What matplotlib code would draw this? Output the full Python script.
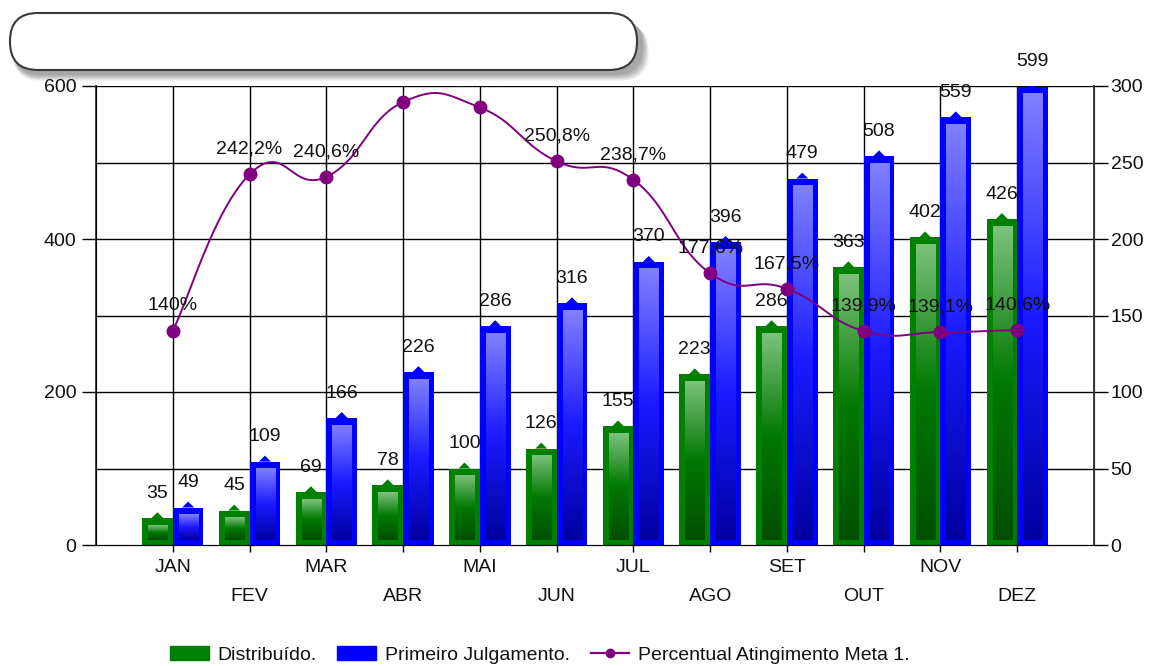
import numpy as np
import matplotlib
matplotlib.use("Agg")
import matplotlib.pyplot as plt
from matplotlib.patches import FancyBboxPatch, Patch, Polygon
from matplotlib.lines import Line2D
from matplotlib.colors import LinearSegmentedColormap
from matplotlib.transforms import IdentityTransform

plt.rcParams['font.family'] = ['Liberation Sans', 'DejaVu Sans']

# data
months = ['JAN', 'FEV', 'MAR', 'ABR', 'MAI', 'JUN', 'JUL', 'AGO', 'SET', 'OUT', 'NOV', 'DEZ']
distribuido = [35, 45, 69, 78, 100, 126, 155, 223, 286, 363, 402, 426]
primeiro_julgamento = [49, 109, 166, 226, 286, 316, 370, 396, 479, 508, 559, 599]
percentual = [140.0, 242.2, 240.6, 289.5, 286.0, 250.8, 238.7, 177.6, 167.5, 139.9, 139.1, 140.6]

GREEN = '#008000'
BLUE = '#0000ff'
PURPLE = '#800080'
TXT = '#111111'
FS = 14

W, H = 1159, 666
fig = plt.figure(figsize=(W / 100, H / 100), dpi=100)
ax = fig.add_axes([96 / W, (H - 545) / H, 998 / W, 459 / H])
ax2 = ax.twinx()

x = np.arange(len(months))
bw = 0.40
px_x = 13.0 / 998          # data units per pixel, x
px_y = 600.0 / 459         # data units per pixel, left y

cmap_g = LinearSegmentedColormap.from_list('g', ['#004f00', '#007800', '#7cc27c'])
cmap_b = LinearSegmentedColormap.from_list('b', ['#0000a0', '#1a1aff', '#8080ff'])
grad = np.linspace(0, 1, 256).reshape(-1, 1)


def draw_bars(xc, vals, color, cmap):
    ax.bar(xc, vals, width=bw, color=color, zorder=2, linewidth=0)
    for xi, v in zip(xc, vals):
        # small cap on top of each bar
        tri = Polygon([[xi - 6 * px_x, v], [xi, v + 6 * px_y], [xi + 6 * px_x, v]],
                      closed=True, color=color, zorder=2, lw=0)
        ax.add_patch(tri)
        x0 = xi - bw / 2 + 6 * px_x
        x1 = xi + bw / 2 - 5 * px_x
        y0 = 5 * px_y
        y1 = v - 7 * px_y
        if y1 > y0:
            ax.imshow(grad, extent=[x0, x1, y0, y1], origin='lower', cmap=cmap,
                      aspect='auto', zorder=3, interpolation='bilinear')
        ax.annotate(str(v), (xi, v), xytext=(0, 18), textcoords='offset points',
                    ha='center', va='center', fontsize=FS, color=TXT, zorder=6)


draw_bars(x - bw / 2, distribuido, GREEN, cmap_g)
draw_bars(x + bw / 2, primeiro_julgamento, BLUE, cmap_b)

ax.set_xlim(-1, 12)
ax.set_ylim(0, 600)
ax.set_aspect('auto')

# grid
ax.set_axisbelow(True)
for yv in range(100, 601, 100):
    ax.axhline(yv, color='black', lw=1, zorder=0)
for xv in x:
    ax.axvline(xv, color='black', lw=1, zorder=0)

ax.set_yticks([0, 200, 400, 600])
ax.tick_params(axis='y', length=10, width=1, pad=4, labelsize=FS, labelcolor=TXT)
ax.set_xticks(x[::2])
ax.set_xticklabels(months[::2])
ax.set_xticks(x[1::2], minor=True)
ax.set_xticklabels(months[1::2], minor=True)
ax.tick_params(axis='x', which='both', length=5, width=1, labelsize=FS, labelcolor=TXT)
ax.tick_params(axis='x', which='major', pad=5)
ax.tick_params(axis='x', which='minor', pad=26)

ax.spines['top'].set_visible(False)
ax2.spines['top'].set_visible(False)
ax.spines['left'].set_color('#333333')
ax.spines['bottom'].set_color('#222222')
ax2.spines['right'].set_color('#333333')
ax2.spines['right'].set_linewidth(1.3)
ax.spines['left'].set_linewidth(1.3)

# percent line as cardinal spline
ax2.set_ylim(0, 300)
ax2.set_yticks(range(0, 301, 50))
ax2.tick_params(axis='y', length=10, width=1, pad=2, labelsize=FS, labelcolor=TXT)

P = np.column_stack([x, percentual]).astype(float)
T = 0.7 / 3
curve = []
n = len(P)
for i in range(n - 1):
    pm = P[i - 1] if i > 0 else P[i]
    pp = P[i + 2] if i + 2 < n else P[i + 1]
    c1 = P[i] + T * (P[i + 1] - pm)
    c2 = P[i + 1] - T * (pp - P[i])
    t = np.linspace(0, 1, 40)[:, None]
    seg = ((1 - t) ** 3) * P[i] + 3 * ((1 - t) ** 2) * t * c1 + 3 * (1 - t) * t ** 2 * c2 + t ** 3 * P[i + 1]
    curve.append(seg)
curve = np.vstack(curve)
ax2.plot(curve[:, 0], curve[:, 1], color=PURPLE, lw=1.4, zorder=4)
ax2.plot(x, percentual, 'o', color=PURPLE, markersize=9, zorder=5)
for xi, p in zip(x, percentual):
    lab = (f'{p:.1f}'.replace('.', ',') if p != int(p) else f'{int(p)}') + '%'
    ax2.annotate(lab, (xi, p), xytext=(0, 18), textcoords='offset points',
                 ha='center', va='center', fontsize=FS, color=TXT, zorder=6,
                 annotation_clip=False, clip_on=True)

# legend
handles = [Patch(color=GREEN, label='Distribuído.'),
           Patch(color=BLUE, label='Primeiro Julgamento.'),
           Line2D([0], [0], color=PURPLE, lw=1.6, marker='o', markersize=6,
                  label='Percentual Atingimento Meta 1.')]
fig.legend(handles=handles, loc='center', bbox_to_anchor=(540 / W, (H - 655) / H),
           ncol=3, frameon=False, fontsize=FS, handlelength=2.0, handleheight=0.67,
           handletextpad=0.45, columnspacing=1.05, labelcolor=TXT)

# empty title box with soft shadow
tr = IdentityTransform()
bx, by, bwid, bh = 10, H - 70, 627, 57
for k in range(10, 0, -1):
    sh = FancyBboxPatch((bx + 3, by - 4 - k * 0.7), bwid + 2 + k * 0.7, bh,
                        boxstyle='round,pad=0,rounding_size=28', transform=tr,
                        facecolor='black', edgecolor='none', alpha=0.04, zorder=9)
    fig.add_artist(sh)
box = FancyBboxPatch((bx, by), bwid, bh, boxstyle='round,pad=0,rounding_size=28',
                     transform=tr, facecolor='white', edgecolor='#3a3a3a', lw=1.5, zorder=10)
fig.add_artist(box)

fig.savefig('out.png', dpi=100)
